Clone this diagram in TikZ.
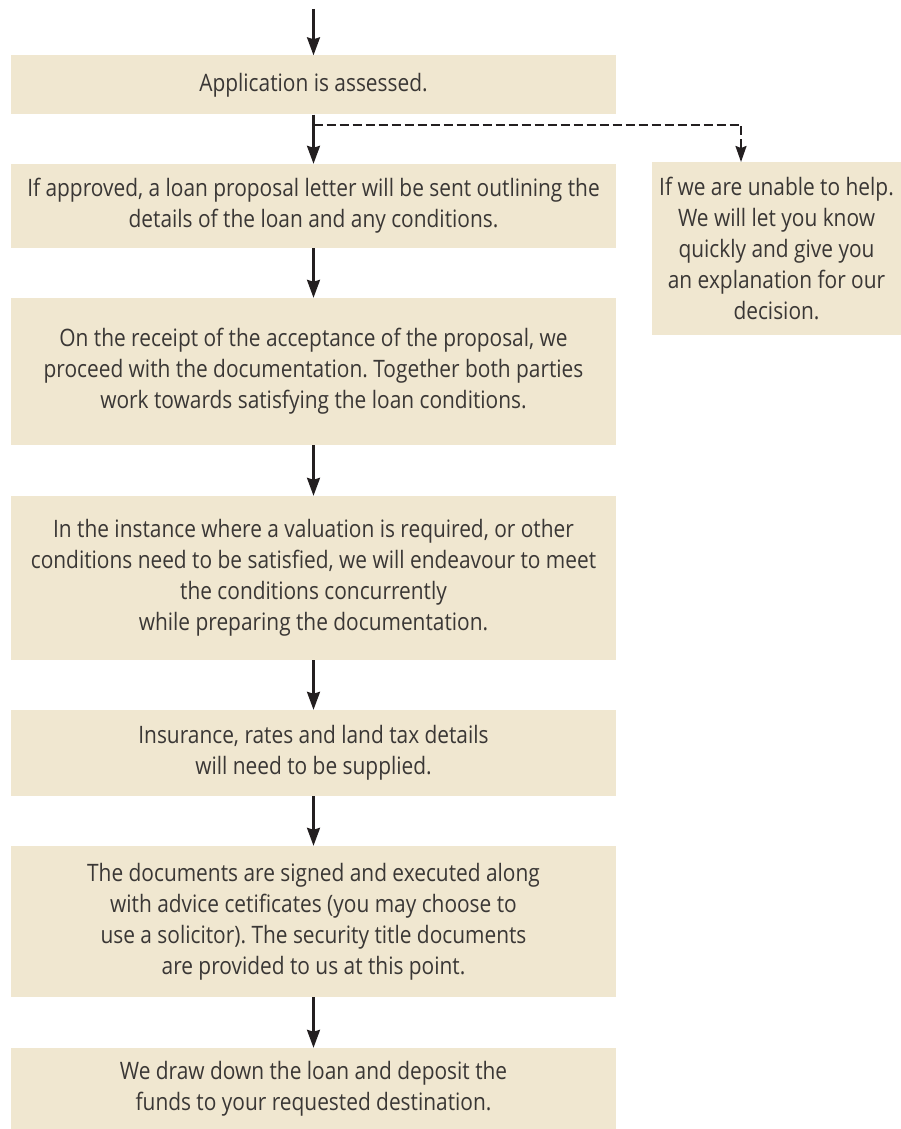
\documentclass[tikz,border=0pt]{standalone}
\usepackage{fontspec}
\setmainfont{Open Sans}[FakeStretch=0.87]
\frenchspacing
\usetikzlibrary{arrows.meta}
\definecolor{boxfill}{RGB}{240,231,208}
\definecolor{txt}{RGB}{58,55,53}
\definecolor{arr}{RGB}{35,31,32}
\tikzset{
  stepbox/.style={fill=boxfill, draw=none, align=center, text=txt, inner sep=0pt,
    font=\fontsize{24}{31}\selectfont},
  flowarrow/.style={draw=arr, line width=2.4pt, -{Stealth[inset=2pt,length=18pt,width=13pt]}},
  dasharrow/.style={draw=arr, line width=2pt, dash pattern=on 9pt off 4pt, -{Stealth[inset=2pt,length=16pt,width=11pt]}}
}
\begin{document}
\begin{tikzpicture}[x=1pt,y=-1pt]
\useasboundingbox (0,0) rectangle (901,1129);
\node[stepbox, minimum width=605pt, minimum height=59pt] (b1) at (313.5,85) {Application is assessed.};
\node[stepbox, minimum width=605pt, minimum height=84pt] (b2) at (313.5,206) {If approved, a loan proposal letter will be sent outlining the\\details of the loan and any conditions.};
\node[stepbox, minimum width=249pt, minimum height=173pt] (r) at (776.5,248.5) {If we are unable to help.\\We will let you know\\quickly and give you\\an explanation for our\\decision.};
\node[stepbox, minimum width=605pt, minimum height=147pt] (b3) at (313.5,371.5) {On the receipt of the acceptance of the proposal, we\\proceed with the documentation. Together both parties\\work towards satisfying the loan conditions.};
\node[stepbox, minimum width=605pt, minimum height=164pt] (b4) at (313.5,578) {In the instance where a valuation is required, or other\\conditions need to be satisfied, we will endeavour to meet\\the conditions concurrently\\while preparing the documentation.};
\node[stepbox, minimum width=605pt, minimum height=86pt] (b5) at (313.5,753) {Insurance, rates and land tax details\\will need to be supplied.};
\node[stepbox, minimum width=605pt, minimum height=151pt] (b6) at (313.5,921.5) {The documents are signed and executed along\\with advice cetificates (you may choose to\\use a solicitor). The security title documents\\are provided to us at this point.};
\node[stepbox, minimum width=605pt, minimum height=81pt] (b7) at (313.5,1088.5) {We draw down the loan and deposit the\\funds to your requested destination.};
\coordinate (top) at (313.5,9);
\coordinate (split) at (313.5,125);
\coordinate (rt) at (741,162);
\draw[flowarrow] (top) -- (b1.north);
\draw[flowarrow] (b1.south) -- (b2.north);
\draw[dasharrow] (split) -| (rt);
\draw[flowarrow] (b2.south) -- (b3.north);
\draw[flowarrow] (b3.south) -- (b4.north);
\draw[flowarrow] (b4.south) -- (b5.north);
\draw[flowarrow] (b5.south) -- (b6.north);
\draw[flowarrow] (b6.south) -- (b7.north);
\end{tikzpicture}
\end{document}
